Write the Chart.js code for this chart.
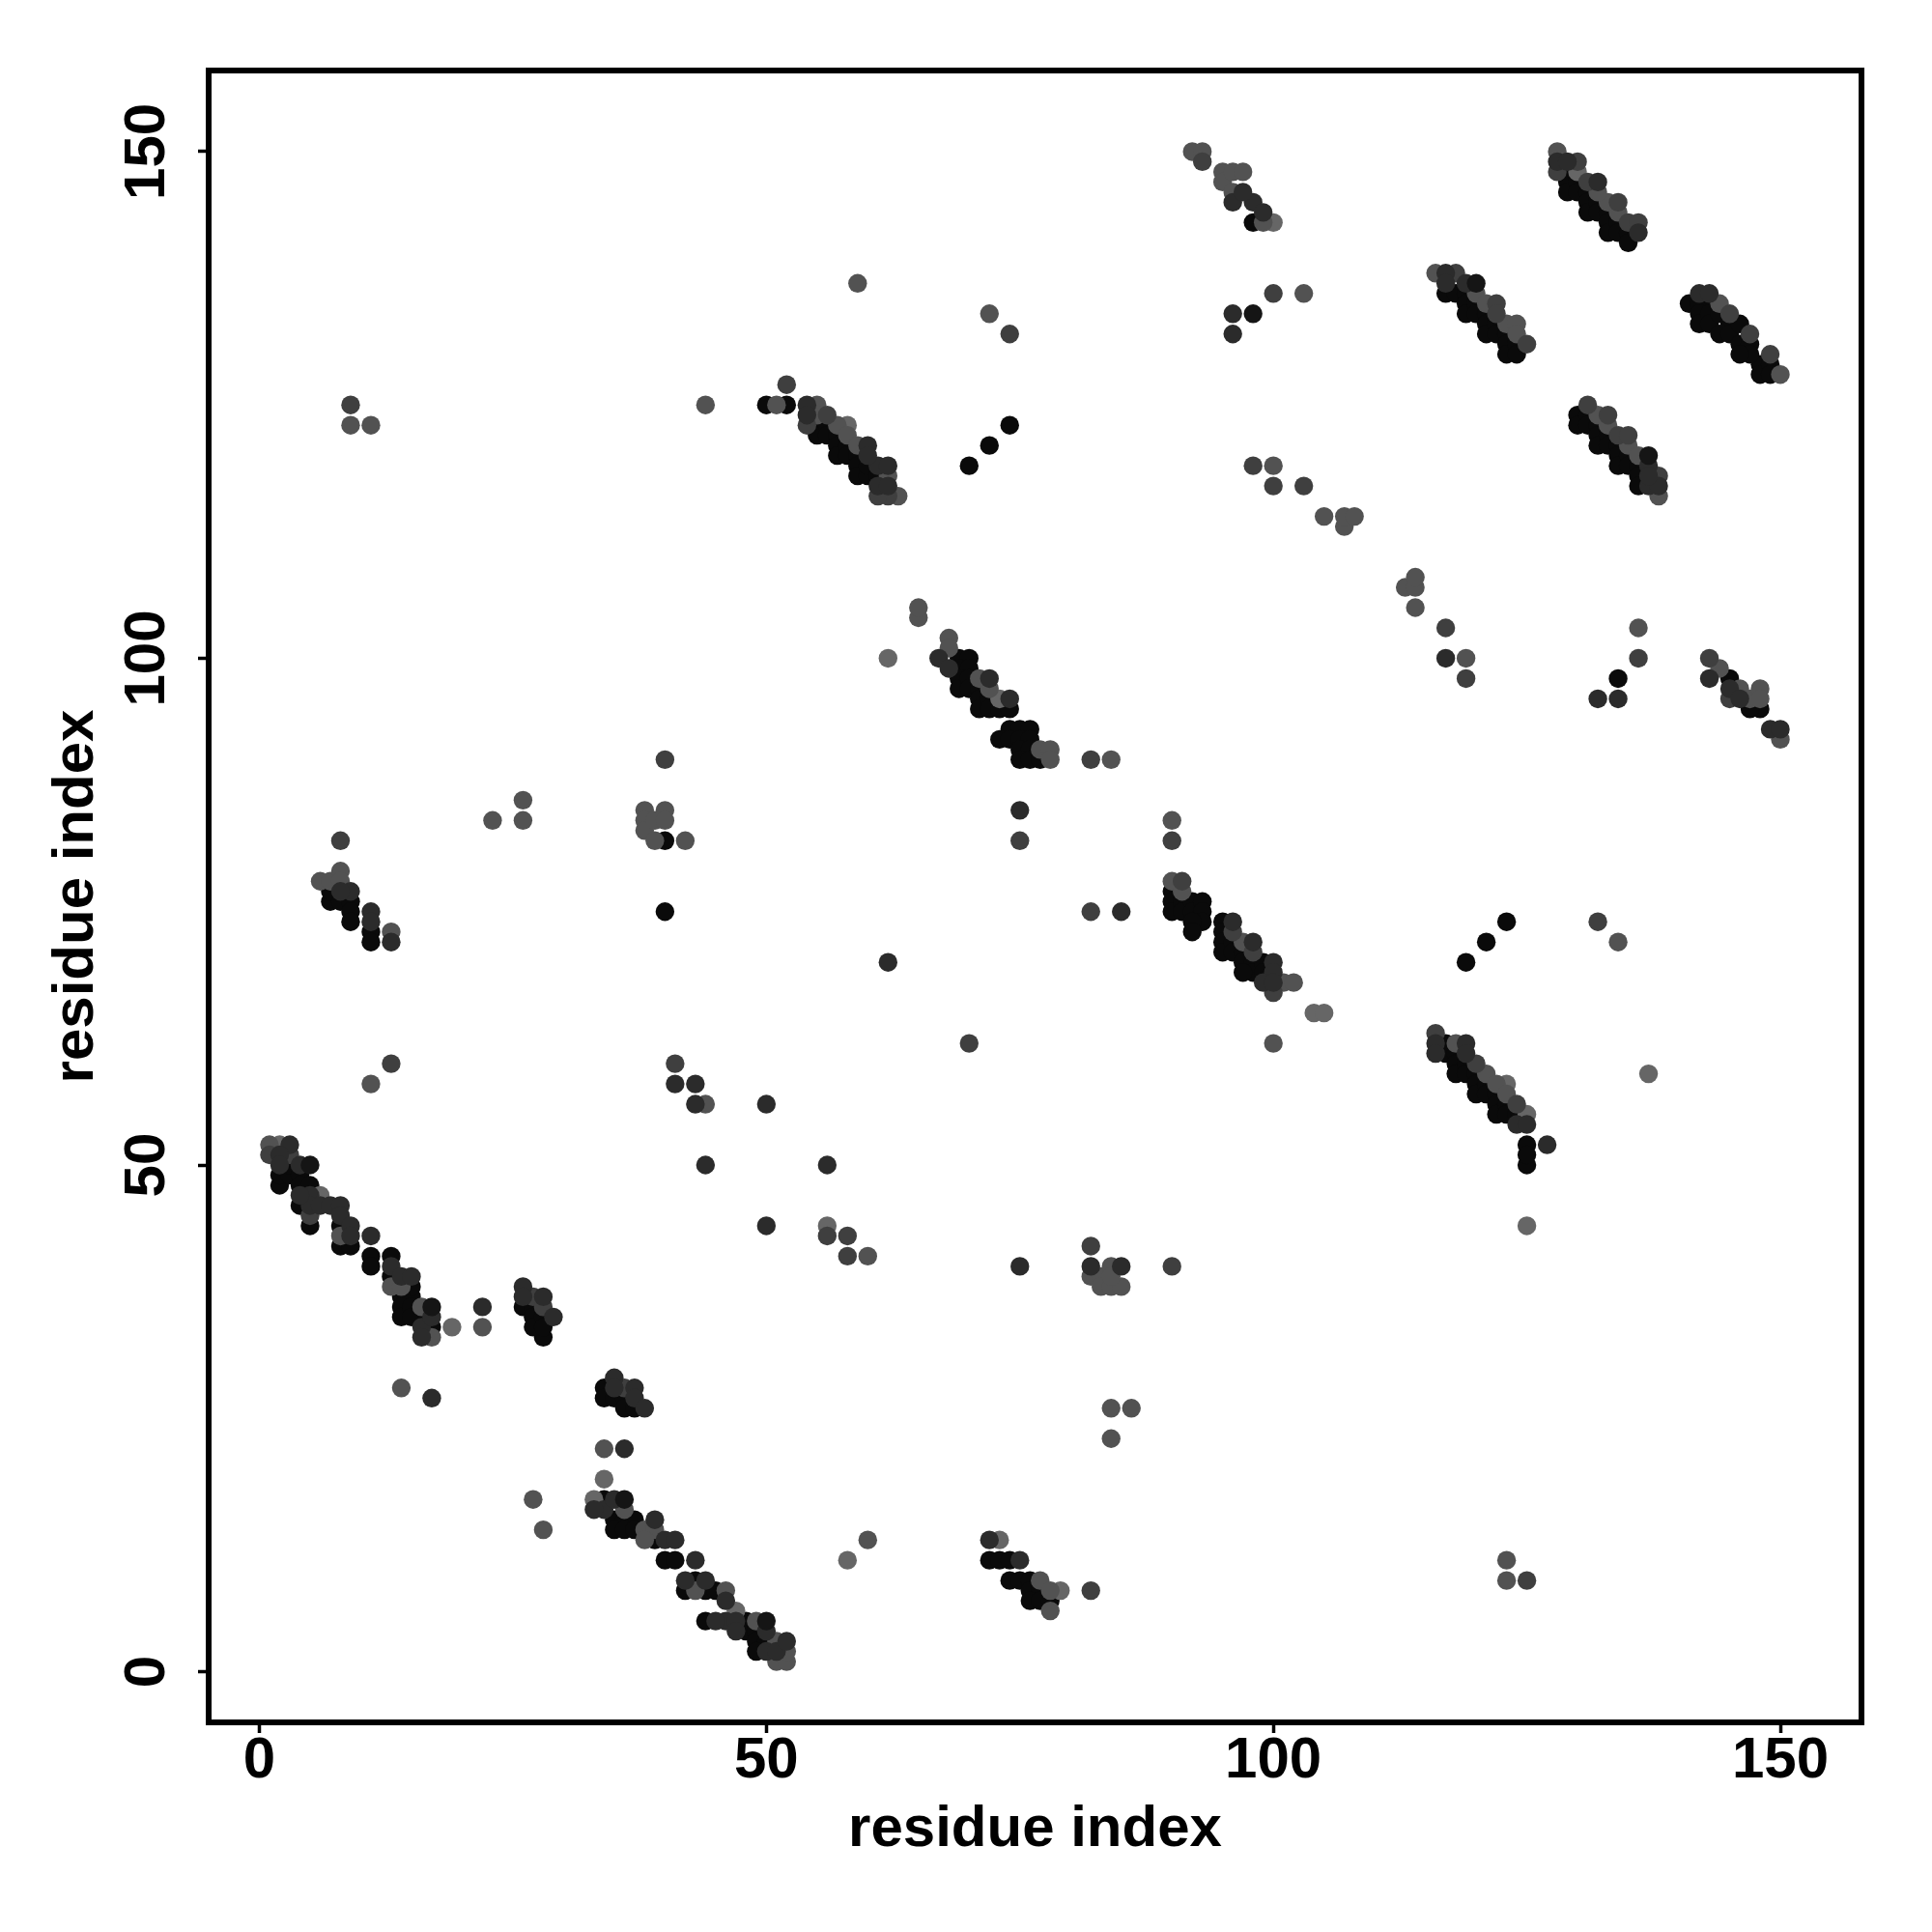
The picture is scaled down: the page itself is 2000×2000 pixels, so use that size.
<!DOCTYPE html>
<html>
<head>
<meta charset="utf-8">
<script src="https://cdn.jsdelivr.net/npm/chart.js@4"></script>
<style>
  html, body { margin: 0; padding: 0; background: #fff; }
  canvas { display: block; }
</style>
</head>
<body>
<canvas id="contact-map" width="2000" height="2000"></canvas>
<script>
// contact pairs [residue, residue], grouped by how dark the dot is
const topBlack = [[5,50],[17,36],[36,17],[50,5],[120,137],[137,120],[98,134]];
const darkDots = [
  [3,52],[4,50],[2,51],[2,50],[5,47],[5,46],[4,47],[6,46],[7,46],[8,46],[8,45],[9,44],[9,43],[11,43],[13,40],[14,39],[15,39],[16,34],[16,33],[17,35],[22,36],
  [26,38],[26,37],[28,37],[29,35],[35,29],[35,28],[37,28],[37,27],[38,26],[36,22],
  [34,16],[33,16],[35,17],[39,15],[40,13],[41,13],[43,11],[42,9],[44,9],[46,7],[46,5],[47,5],[45,5],[47,4],[50,4],[50,2],[51,2],[52,3],
  [72,13],[75,11],[17,27],
  [44,50],[56,50],[50,56],[50,44],[43,58],[43,56],[41,58],[62,70],[85,75],[75,85],[75,40],[85,40],[82,40],
  [96,134],[96,132],[127,52],[124,54],[125,54],[117,100],[132,96],[134,96],
  [54,125],[54,124],[60,121],[61,119],[62,119],[61,117],[62,117],[60,120],
  [67,100],[68,99],[72,98],[74,96],[96,74],[98,72],[100,70],[100,69],[99,68],[100,68],
  [116,62],[116,61],[119,62],[119,61],[117,138],[117,137],[119,137],
  [128,149],[129,149],[132,147],[136,142],[137,117],[138,117],[137,119],[137,118],
  [142,136],[143,136],[145,97],[146,96],[143,98],[149,93],[150,93],[13,72],[9,77],[8,77],[11,75],[11,74],[96,145],[98,145],[97,146],[99,144]
];
const midDarkDots = [
  [5,45],[1,51],[3,51],[27,37],[36,28],[28,36],[54,123],[52,127],[125,9],[82,8],
  [8,82],[9,125],[74,132],[100,136],[100,117],[103,117],[56,43],[58,43],[58,41],[82,42],[90,40],[13,60],
  [41,60],[70,62],[82,75],[75,82],[90,82],[82,90],[132,74],[117,103],[119,98],[136,100],[98,119],[93,149],
  [56,124],[62,116],[61,116],[91,78],[98,71],[100,67],[96,73],[116,63],[120,60],[124,56],[118,138],[122,135],[122,134],[125,131],
  [128,148],[130,149],[131,147],[134,145],[135,143],[136,143],[131,125],[133,124],[134,122],[135,122],[138,118],
  [143,100],[145,96],[145,134],[147,132],[149,130],[40,90]
];
const midDots = [
  [1,52],[8,43],[13,38],[14,38],[16,36],[17,33],[22,34],[34,22],[36,16],[38,14],[39,14],[38,13],[43,8],[46,8],[49,5],[51,3],[51,1],[52,1],[52,2],
  [77,9],[78,8],[78,6],[14,28],[28,14],[27,17],[60,13],[123,11],[123,9],[84,23],[84,26],[86,26],[60,41],[44,56],
  [82,39],[83,39],[83,38],[84,38],[85,38],[84,40],[84,39],[11,58],[100,62],[42,82],[23,84],[26,84],[26,86],
  [38,85],[38,84],[38,83],[39,82],[39,84],[40,85],[40,84],[84,90],[90,84],[65,104],[65,105],[119,100],[113,107],[114,107],[114,108],[114,105],[136,103],
  [100,119],[105,114],[107,113],[107,114],[108,114],[9,123],[11,123],[44,125],[72,134],[59,137],[103,136],[92,150],[93,150],[134,72],
  [95,148],[95,147],[96,148],[96,146],[97,148],[99,143],
  [51,125],[55,125],[55,124],[57,123],[58,122],[59,121],[62,118],[63,116],
  [68,102],[68,101],[71,98],[72,97],[77,91],[78,91],[78,90],[90,78],[91,77],[97,72],[101,68],[102,68],
  [118,62],[121,59],[122,58],[123,57],[116,138],[120,136],[121,135],[123,133],[124,133],[124,132],
  [128,150],[133,145],[134,144],[132,146],[132,124],[133,123],[135,121],[136,120],[138,116],
  [144,135],[144,99],[146,97],[147,96],[148,97],[148,96],[150,92],[150,128],[13,73],[6,78],[7,78],[8,79],[8,78]
];
const lightDots = [
  [2,52],[6,47],[19,34],[33,17],[34,19],[47,6],[58,11],[73,13],[79,8],[56,44],[125,44],[104,65],[105,65],[137,59],[62,100],
  [58,123],[73,96],[123,58],[125,55],[130,148],[100,143]
];
const blackDots = [
  [4,46],[2,48],[13,41],[15,37],[15,38],[16,35],[28,33],[34,17],[35,15],[36,15],[37,15],[35,14],[36,14],[37,14],[39,13],[40,11],[41,11],[43,9],[42,8],[44,8],[45,8],
  [44,5],[48,5],[48,4],[49,4],[49,3],[50,3],[49,2],[72,11],[73,11],[74,11],[74,9],[75,9],[76,9],[76,8],[77,8],[76,7],[77,7],[78,7],
  [2,49],[3,49],[3,50],[4,49],[4,48],[5,48],[5,44],[8,44],[8,42],[9,42],[11,41],[11,40],[13,39],[14,37],[14,36],[14,35],[15,36],[15,35],[17,34],
  [26,36],[27,36],[27,35],[27,34],[28,35],[28,34],[34,28],[34,27],[35,27],[36,27],[36,26],[37,26],
  [40,82],[40,75],[119,70],[121,72],[123,74],[70,119],[72,121],[74,123],[134,98],[125,52],[125,50],[125,51],[98,143],
  [7,76],[7,77],[8,76],[9,76],[9,75],[9,74],[11,73],[11,72],
  [50,125],[52,125],[55,123],[55,122],[56,123],[56,122],[57,122],[57,121],[57,120],[58,121],[58,120],[59,120],[59,119],[59,118],[60,118],[60,119],[61,118],
  [69,100],[70,100],[69,99],[70,99],[69,98],[69,97],[70,98],[70,97],[71,97],[71,96],[71,95],[72,96],[72,95],[73,95],[74,95],
  [74,93],[75,93],[76,93],[73,92],[74,92],[75,92],[76,92],[75,91],[76,91],[75,90],[76,90],[77,90],
  [90,77],[90,76],[90,75],[91,76],[91,75],[92,76],[92,75],[93,76],[93,75],[93,74],[92,74],[92,73],
  [95,74],[95,73],[95,72],[95,71],[96,72],[96,71],[97,71],[97,70],[98,70],[98,69],[97,69],[99,70],[99,69],
  [117,62],[117,61],[118,61],[118,60],[118,59],[119,60],[119,59],[120,59],[120,58],[120,57],[121,58],[121,57],[122,57],[122,56],[122,55],[123,56],[123,55],[124,55],
  [117,136],[118,136],[119,136],[119,135],[119,134],[120,135],[120,134],[121,134],[121,133],[121,132],[122,133],[122,132],[123,132],[123,131],[123,130],[124,131],[124,130],
  [129,148],[129,147],[129,146],[130,147],[130,146],[131,146],[131,145],[131,144],[132,145],[132,144],[133,144],[133,143],[133,142],[134,143],[134,142],[135,142],[135,141],
  [130,124],[130,123],[131,124],[131,123],[132,123],[132,122],[132,121],[133,122],[133,121],[134,121],[134,120],[134,119],[135,120],[135,119],[136,119],[136,118],[136,117],
  [141,135],[142,135],[143,135],[142,134],[142,133],[143,134],[143,133],[144,134],[144,132],[145,133],[145,132],[146,133],[146,131],[147,131],[148,129],[148,128],[149,129],[149,128],[147,130],[146,130],
  [145,98],[148,95],[147,95]
];
const tickValues = [0, 50, 100, 150];
const axisLabel = 'residue index';

const toPoints = pairs => pairs.map(p => ({ x: p[0], y: p[1] }));
// first dataset in the list ends up on top
const groups = [
  { dots: topBlack, color: '#151515' },
  { dots: darkDots, color: '#2b2b2b' },
  { dots: midDarkDots, color: '#3f3f3f' },
  { dots: midDots, color: '#525252' },
  { dots: lightDots, color: '#666666' },
  { dots: blackDots, color: '#0a0a0a' }
];

const frame = {
  id: 'frame',
  afterDraw(chart) {
    const { ctx, chartArea: a } = chart;
    ctx.save();
    ctx.strokeStyle = '#000';
    ctx.lineWidth = 6;
    ctx.strokeRect(a.left, a.top, a.right - a.left, a.bottom - a.top);
    ctx.restore();
  }
};

const tickFont = { family: '"Liberation Sans", Arial, sans-serif', size: 60, weight: 'bold' };

function axis(extra, fixSize) {
  return Object.assign({
    type: 'linear',
    min: -5,
    max: 158,
    afterBuildTicks: scale => { scale.ticks = tickValues.map(v => ({ value: v })); },
    afterFit: fixSize,
    border: { display: false },
    grid: { drawOnChartArea: false, drawTicks: true, tickLength: 11, tickWidth: 3.5, tickColor: '#000' }
  }, extra);
}

new Chart(document.getElementById('contact-map').getContext('2d'), {
  type: 'scatter',
  data: {
    datasets: groups.map(g => ({
      data: toPoints(g.dots),
      backgroundColor: g.color,
      pointRadius: 9.7,
      pointHoverRadius: 9.7,
      borderWidth: 0
    }))
  },
  plugins: [frame],
  options: {
    responsive: false,
    animation: false,
    layout: { padding: { left: 0, top: 73, right: 73, bottom: 0 } },
    plugins: { legend: { display: false }, tooltip: { enabled: false } },
    scales: {
      x: axis({
        ticks: { color: '#000', font: tickFont, maxRotation: 0, minRotation: 0, padding: -7 },
        title: { display: true, text: axisLabel, color: '#000', font: tickFont, padding: { top: 0, bottom: 70 } }
      }, s => { s.height = 217; }),
      y: axis({
        ticks: { color: '#000', font: tickFont, minRotation: 90, maxRotation: 90, crossAlign: 'center', padding: 1 },
        title: { display: true, text: axisLabel, color: '#000', font: tickFont, padding: { top: 43, bottom: 0 } }
      }, s => { s.width = 216; })
    }
  }
});
</script>
</body>
</html>
